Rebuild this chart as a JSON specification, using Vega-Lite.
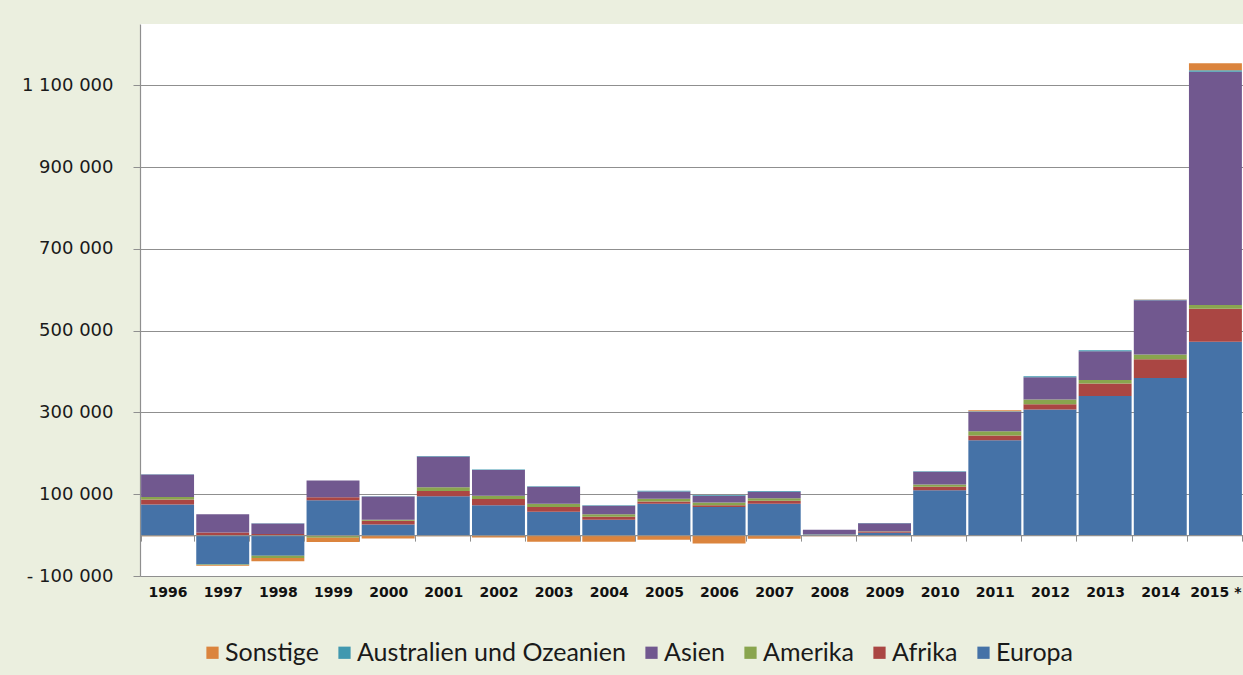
{
  "$schema": "https://vega.github.io/schema/vega-lite/v6.json",
  "width": 1103,
  "height": 552,
  "autosize": {"type": "none"},
  "padding": {"left": 140, "top": 24, "right": 0, "bottom": 99},
  "background": "#EBEFDF",
  "config": {
    "view": {"stroke": null, "fill": "#FFFFFF"},
    "font": "DejaVu Sans"
  },
  "datasets": {
    "regionen": [
      {"region": "Europa", "stapel": 1},
      {"region": "Afrika", "stapel": 2},
      {"region": "Amerika", "stapel": 3},
      {"region": "Asien", "stapel": 4},
      {"region": "Australien und Ozeanien", "stapel": 5},
      {"region": "Sonstige", "stapel": 6}
    ]
  },
  "data": {
    "values": [
      {"jahr": "1996", "region": "Europa", "saldo": 75000},
      {"jahr": "1996", "region": "Afrika", "saldo": 12000},
      {"jahr": "1996", "region": "Amerika", "saldo": 6500},
      {"jahr": "1996", "region": "Asien", "saldo": 55000},
      {"jahr": "1996", "region": "Australien und Ozeanien", "saldo": 500},
      {"jahr": "1996", "region": "Sonstige", "saldo": -2500},
      {"jahr": "1997", "region": "Europa", "saldo": -72000},
      {"jahr": "1997", "region": "Afrika", "saldo": 6500},
      {"jahr": "1997", "region": "Amerika", "saldo": -1200},
      {"jahr": "1997", "region": "Asien", "saldo": 44500},
      {"jahr": "1997", "region": "Australien und Ozeanien", "saldo": 300},
      {"jahr": "1997", "region": "Sonstige", "saldo": -1500},
      {"jahr": "1998", "region": "Europa", "saldo": -50500},
      {"jahr": "1998", "region": "Afrika", "saldo": 2500},
      {"jahr": "1998", "region": "Amerika", "saldo": -5700},
      {"jahr": "1998", "region": "Asien", "saldo": 26000},
      {"jahr": "1998", "region": "Australien und Ozeanien", "saldo": 300},
      {"jahr": "1998", "region": "Sonstige", "saldo": -8000},
      {"jahr": "1999", "region": "Europa", "saldo": 85500},
      {"jahr": "1999", "region": "Afrika", "saldo": 7300},
      {"jahr": "1999", "region": "Amerika", "saldo": -6500},
      {"jahr": "1999", "region": "Asien", "saldo": 40500},
      {"jahr": "1999", "region": "Australien und Ozeanien", "saldo": 500},
      {"jahr": "1999", "region": "Sonstige", "saldo": -10500},
      {"jahr": "2000", "region": "Europa", "saldo": 26000},
      {"jahr": "2000", "region": "Afrika", "saldo": 9000},
      {"jahr": "2000", "region": "Amerika", "saldo": 2400},
      {"jahr": "2000", "region": "Asien", "saldo": 57000},
      {"jahr": "2000", "region": "Australien und Ozeanien", "saldo": 600},
      {"jahr": "2000", "region": "Sonstige", "saldo": -8000},
      {"jahr": "2001", "region": "Europa", "saldo": 95000},
      {"jahr": "2001", "region": "Afrika", "saldo": 13000},
      {"jahr": "2001", "region": "Amerika", "saldo": 9000},
      {"jahr": "2001", "region": "Asien", "saldo": 75000},
      {"jahr": "2001", "region": "Australien und Ozeanien", "saldo": 1500},
      {"jahr": "2001", "region": "Sonstige", "saldo": -3000},
      {"jahr": "2002", "region": "Europa", "saldo": 73000},
      {"jahr": "2002", "region": "Afrika", "saldo": 15500},
      {"jahr": "2002", "region": "Amerika", "saldo": 8000},
      {"jahr": "2002", "region": "Asien", "saldo": 62500},
      {"jahr": "2002", "region": "Australien und Ozeanien", "saldo": 1600},
      {"jahr": "2002", "region": "Sonstige", "saldo": -6000},
      {"jahr": "2003", "region": "Europa", "saldo": 57000},
      {"jahr": "2003", "region": "Afrika", "saldo": 12000},
      {"jahr": "2003", "region": "Amerika", "saldo": 8000},
      {"jahr": "2003", "region": "Asien", "saldo": 41000},
      {"jahr": "2003", "region": "Australien und Ozeanien", "saldo": 1500},
      {"jahr": "2003", "region": "Sonstige", "saldo": -16000},
      {"jahr": "2004", "region": "Europa", "saldo": 37500},
      {"jahr": "2004", "region": "Afrika", "saldo": 7300},
      {"jahr": "2004", "region": "Amerika", "saldo": 6500},
      {"jahr": "2004", "region": "Asien", "saldo": 20500},
      {"jahr": "2004", "region": "Australien und Ozeanien", "saldo": 1500},
      {"jahr": "2004", "region": "Sonstige", "saldo": -16000},
      {"jahr": "2005", "region": "Europa", "saldo": 76500},
      {"jahr": "2005", "region": "Afrika", "saldo": 5700},
      {"jahr": "2005", "region": "Amerika", "saldo": 6500},
      {"jahr": "2005", "region": "Asien", "saldo": 18000},
      {"jahr": "2005", "region": "Australien und Ozeanien", "saldo": 1500},
      {"jahr": "2005", "region": "Sonstige", "saldo": -11500},
      {"jahr": "2006", "region": "Europa", "saldo": 69000},
      {"jahr": "2006", "region": "Afrika", "saldo": 4000},
      {"jahr": "2006", "region": "Amerika", "saldo": 6500},
      {"jahr": "2006", "region": "Asien", "saldo": 17000},
      {"jahr": "2006", "region": "Australien und Ozeanien", "saldo": 1500},
      {"jahr": "2006", "region": "Sonstige", "saldo": -20500},
      {"jahr": "2007", "region": "Europa", "saldo": 76500},
      {"jahr": "2007", "region": "Afrika", "saldo": 7300},
      {"jahr": "2007", "region": "Amerika", "saldo": 6500},
      {"jahr": "2007", "region": "Asien", "saldo": 15500},
      {"jahr": "2007", "region": "Australien und Ozeanien", "saldo": 2000},
      {"jahr": "2007", "region": "Sonstige", "saldo": -9000},
      {"jahr": "2008", "region": "Europa", "saldo": 1200},
      {"jahr": "2008", "region": "Afrika", "saldo": 500},
      {"jahr": "2008", "region": "Amerika", "saldo": 300},
      {"jahr": "2008", "region": "Asien", "saldo": 11000},
      {"jahr": "2008", "region": "Australien und Ozeanien", "saldo": 300},
      {"jahr": "2008", "region": "Sonstige", "saldo": -2500},
      {"jahr": "2009", "region": "Europa", "saldo": 5500},
      {"jahr": "2009", "region": "Afrika", "saldo": 3300},
      {"jahr": "2009", "region": "Amerika", "saldo": 800},
      {"jahr": "2009", "region": "Asien", "saldo": 19500},
      {"jahr": "2009", "region": "Australien und Ozeanien", "saldo": 800},
      {"jahr": "2009", "region": "Sonstige", "saldo": -2500},
      {"jahr": "2010", "region": "Europa", "saldo": 110000},
      {"jahr": "2010", "region": "Afrika", "saldo": 8000},
      {"jahr": "2010", "region": "Amerika", "saldo": 5700},
      {"jahr": "2010", "region": "Asien", "saldo": 31000},
      {"jahr": "2010", "region": "Australien und Ozeanien", "saldo": 1600},
      {"jahr": "2010", "region": "Sonstige", "saldo": -2500},
      {"jahr": "2011", "region": "Europa", "saldo": 232000},
      {"jahr": "2011", "region": "Afrika", "saldo": 11500},
      {"jahr": "2011", "region": "Amerika", "saldo": 10500},
      {"jahr": "2011", "region": "Asien", "saldo": 48000},
      {"jahr": "2011", "region": "Australien und Ozeanien", "saldo": 1000},
      {"jahr": "2011", "region": "Sonstige", "saldo": 2500},
      {"jahr": "2012", "region": "Europa", "saldo": 307000},
      {"jahr": "2012", "region": "Afrika", "saldo": 13000},
      {"jahr": "2012", "region": "Amerika", "saldo": 11500},
      {"jahr": "2012", "region": "Asien", "saldo": 54500},
      {"jahr": "2012", "region": "Australien und Ozeanien", "saldo": 2400},
      {"jahr": "2012", "region": "Sonstige", "saldo": -2000},
      {"jahr": "2013", "region": "Europa", "saldo": 340500},
      {"jahr": "2013", "region": "Afrika", "saldo": 30000},
      {"jahr": "2013", "region": "Amerika", "saldo": 9000},
      {"jahr": "2013", "region": "Asien", "saldo": 70000},
      {"jahr": "2013", "region": "Australien und Ozeanien", "saldo": 2500},
      {"jahr": "2013", "region": "Sonstige", "saldo": -2000},
      {"jahr": "2014", "region": "Europa", "saldo": 384500},
      {"jahr": "2014", "region": "Afrika", "saldo": 45500},
      {"jahr": "2014", "region": "Amerika", "saldo": 11500},
      {"jahr": "2014", "region": "Asien", "saldo": 133000},
      {"jahr": "2014", "region": "Australien und Ozeanien", "saldo": 1000},
      {"jahr": "2014", "region": "Sonstige", "saldo": 1000},
      {"jahr": "2015 *", "region": "Europa", "saldo": 473000},
      {"jahr": "2015 *", "region": "Afrika", "saldo": 80500},
      {"jahr": "2015 *", "region": "Amerika", "saldo": 9500},
      {"jahr": "2015 *", "region": "Asien", "saldo": 570000},
      {"jahr": "2015 *", "region": "Australien und Ozeanien", "saldo": 3900},
      {"jahr": "2015 *", "region": "Sonstige", "saldo": 17000}
    ]
  },
  "transform": [
    {
      "lookup": "region",
      "from": {"data": {"name": "regionen"}, "key": "region", "fields": ["stapel"]}
    }
  ],
  "mark": {"type": "bar"},
  "encoding": {
    "x": {
      "field": "jahr",
      "type": "ordinal",
      "scale": {"paddingInner": 0.04, "paddingOuter": 0.02},
      "axis": {
        "title": null,
        "orient": "bottom",
        "offset": -40.9,
        "zindex": 1,
        "labelAngle": 0,
        "labelFont": "DejaVu Sans",
        "labelFontWeight": "bold",
        "labelFontSize": 14,
        "labelColor": "#111111",
        "labelPadding": 44,
        "tickBand": "extent",
        "tickSize": 6,
        "tickColor": "#8F8F8F",
        "domainColor": "#8F8F8F",
        "domainWidth": 1.2
      }
    },
    "y": {
      "field": "saldo",
      "type": "quantitative",
      "stack": "zero",
      "scale": {"domain": [-100000, 1250000], "nice": false, "zero": false},
      "axis": {
        "title": null,
        "values": [-100000, 100000, 300000, 500000, 700000, 900000, 1100000],
        "labelExpr": "datum.value < 0 ? '- ' + replace(format(-datum.value, ','), regexp(',', 'g'), ' ') : replace(format(datum.value, ','), regexp(',', 'g'), ' ')",
        "labelFont": "DejaVu Sans",
        "labelFontSize": 18,
        "labelColor": "#1A1A1A",
        "labelPadding": 20,
        "tickSize": 7,
        "tickColor": "#8F8F8F",
        "domainColor": "#8F8F8F",
        "domainWidth": 1.2,
        "grid": true,
        "gridColor": "#8F8F8F",
        "gridWidth": 1
      }
    },
    "order": {"field": "stapel", "type": "quantitative", "sort": "ascending"},
    "color": {
      "field": "region",
      "type": "nominal",
      "scale": {
        "domain": ["Sonstige", "Australien und Ozeanien", "Asien", "Amerika", "Afrika", "Europa"],
        "range": ["#DB843D", "#4198AF", "#71588F", "#89A54E", "#AA4643", "#4572A7"]
      },
      "legend": {
        "title": null,
        "orient": "none",
        "legendX": 60,
        "legendY": 616,
        "direction": "horizontal",
        "symbolType": "square",
        "symbolSize": 150,
        "symbolStrokeWidth": 0,
        "labelFont": "Lato",
        "labelFontSize": 25,
        "labelLimit": 400,
        "labelColor": "#1A1A1A",
        "labelOffset": 0,
        "columnPadding": 13
      }
    }
  }
}
